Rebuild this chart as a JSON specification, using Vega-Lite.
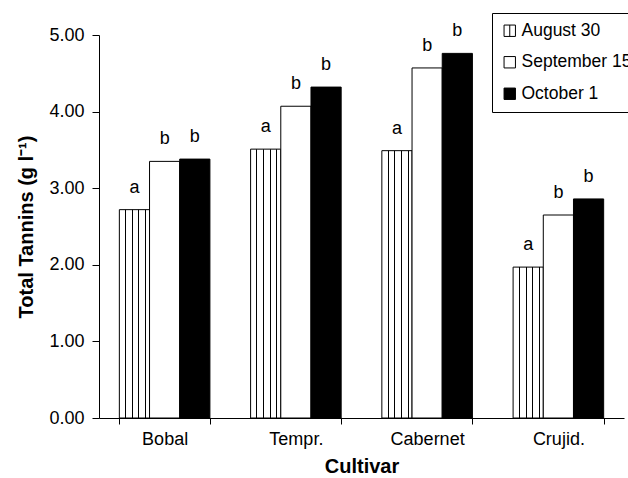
{
  "$schema": "https://vega.github.io/schema/vega-lite/v6.json",
  "width": 525,
  "height": 383,
  "autosize": {"type": "none"},
  "padding": {"left": 99, "top": 35, "right": 4, "bottom": 60},
  "background": "white",
  "config": {
    "view": {"stroke": null},
    "font": "Liberation Sans",
    "axis": {"domainColor": "black", "tickColor": "black", "labelColor": "black", "titleColor": "black", "labelFont": "Liberation Sans", "titleFont": "Liberation Sans", "grid": false}
  },
  "data": {
    "values": [
      {"cultivar": "Bobal", "date": "August 30", "tannins": 2.72, "letter": "a"},
      {"cultivar": "Bobal", "date": "September 15", "tannins": 3.35, "letter": "b"},
      {"cultivar": "Bobal", "date": "October 1", "tannins": 3.38, "letter": "b"},
      {"cultivar": "Tempr.", "date": "August 30", "tannins": 3.51, "letter": "a"},
      {"cultivar": "Tempr.", "date": "September 15", "tannins": 4.07, "letter": "b"},
      {"cultivar": "Tempr.", "date": "October 1", "tannins": 4.32, "letter": "b"},
      {"cultivar": "Cabernet", "date": "August 30", "tannins": 3.49, "letter": "a"},
      {"cultivar": "Cabernet", "date": "September 15", "tannins": 4.57, "letter": "b"},
      {"cultivar": "Cabernet", "date": "October 1", "tannins": 4.76, "letter": "b"},
      {"cultivar": "Crujid.", "date": "August 30", "tannins": 1.97, "letter": "a"},
      {"cultivar": "Crujid.", "date": "September 15", "tannins": 2.65, "letter": "b"},
      {"cultivar": "Crujid.", "date": "October 1", "tannins": 2.86, "letter": "b"}
    ]
  },
  "encoding": {
    "x": {
      "field": "cultivar", "type": "nominal", "sort": null,
      "scale": {"paddingInner": 0.31, "paddingOuter": 0.155},
      "axis": {"title": "Cultivar", "labelAngle": 0, "tickBand": "extent", "tickSize": 6, "labelFontSize": 18, "labelPadding": 6, "titleFontSize": 20, "titleFontWeight": "bold", "titlePadding": 8}
    },
    "xOffset": {"field": "date", "type": "nominal", "sort": ["August 30", "September 15", "October 1"], "scale": {"paddingInner": 0, "paddingOuter": 0}},
    "y": {
      "field": "tannins", "type": "quantitative",
      "scale": {"domain": [0, 5], "nice": false},
      "axis": {"title": "Total Tannins (g l⁻¹)", "values": [0, 1, 2, 3, 4, 5], "format": ".2f", "tickSize": 7, "labelFontSize": 18, "labelPadding": 8, "titleFontSize": 20, "titleFontWeight": "bold", "titlePadding": 12}
    }
  },
  "layer": [
    {
      "mark": {"type": "bar", "stroke": "black", "strokeWidth": 1},
      "encoding": {
        "fill": {
          "condition": {
            "test": "datum.date === 'August 30'",
            "value": {"gradient": "linear", "x1": 0, "x2": 1, "y1": 0, "y2": 0, "stops": [
              {"offset": 0, "color": "white"},
              {"offset": 0.193, "color": "white"},
              {"offset": 0.193, "color": "black"},
              {"offset": 0.227, "color": "black"},
              {"offset": 0.227, "color": "white"},
              {"offset": 0.413, "color": "white"},
              {"offset": 0.413, "color": "black"},
              {"offset": 0.447, "color": "black"},
              {"offset": 0.447, "color": "white"},
              {"offset": 0.633, "color": "white"},
              {"offset": 0.633, "color": "black"},
              {"offset": 0.667, "color": "black"},
              {"offset": 0.667, "color": "white"},
              {"offset": 0.853, "color": "white"},
              {"offset": 0.853, "color": "black"},
              {"offset": 0.887, "color": "black"},
              {"offset": 0.887, "color": "white"},
              {"offset": 1, "color": "white"}
            ]}
          },
          "field": "date", "type": "nominal",
          "sort": ["August 30", "September 15", "October 1"],
          "scale": {
            "domain": ["August 30", "September 15", "October 1"],
            "range": ["white", "white", "black"]
          },
          "legend": {
            "title": null,
            "orient": "none",
            "legendX": 393,
            "legendY": -22,
            "strokeColor": "black",
            "fillColor": "white",
            "padding": 9,
            "symbolType": "square",
            "symbolSize": 130,
            "symbolStrokeColor": "black",
            "symbolStrokeWidth": 1,
            "labelFontSize": 17.5,
            "labelFont": "Liberation Sans",
            "labelColor": "black",
            "labelOffset": 3,
            "rowPadding": 12.5,
            "labelLimit": 300,
            "encode": {"symbols": {"update": {
              "stroke": {"value": "black"},
              "strokeWidth": {"value": 1},
              "opacity": {"value": 1},
              "shape": {"signal": "datum.value === 'August 30' ? 'M-1,-1H1V1H-1ZM0,-1V1' : 'square'"}
            }}}
          }
        }
      }
    },
    {
      "mark": {"type": "text", "baseline": "alphabetic", "dy": -17, "fontSize": 18, "font": "Liberation Sans", "color": "black"},
      "encoding": {
        "text": {"field": "letter", "type": "nominal"}
      }
    }
  ]
}
